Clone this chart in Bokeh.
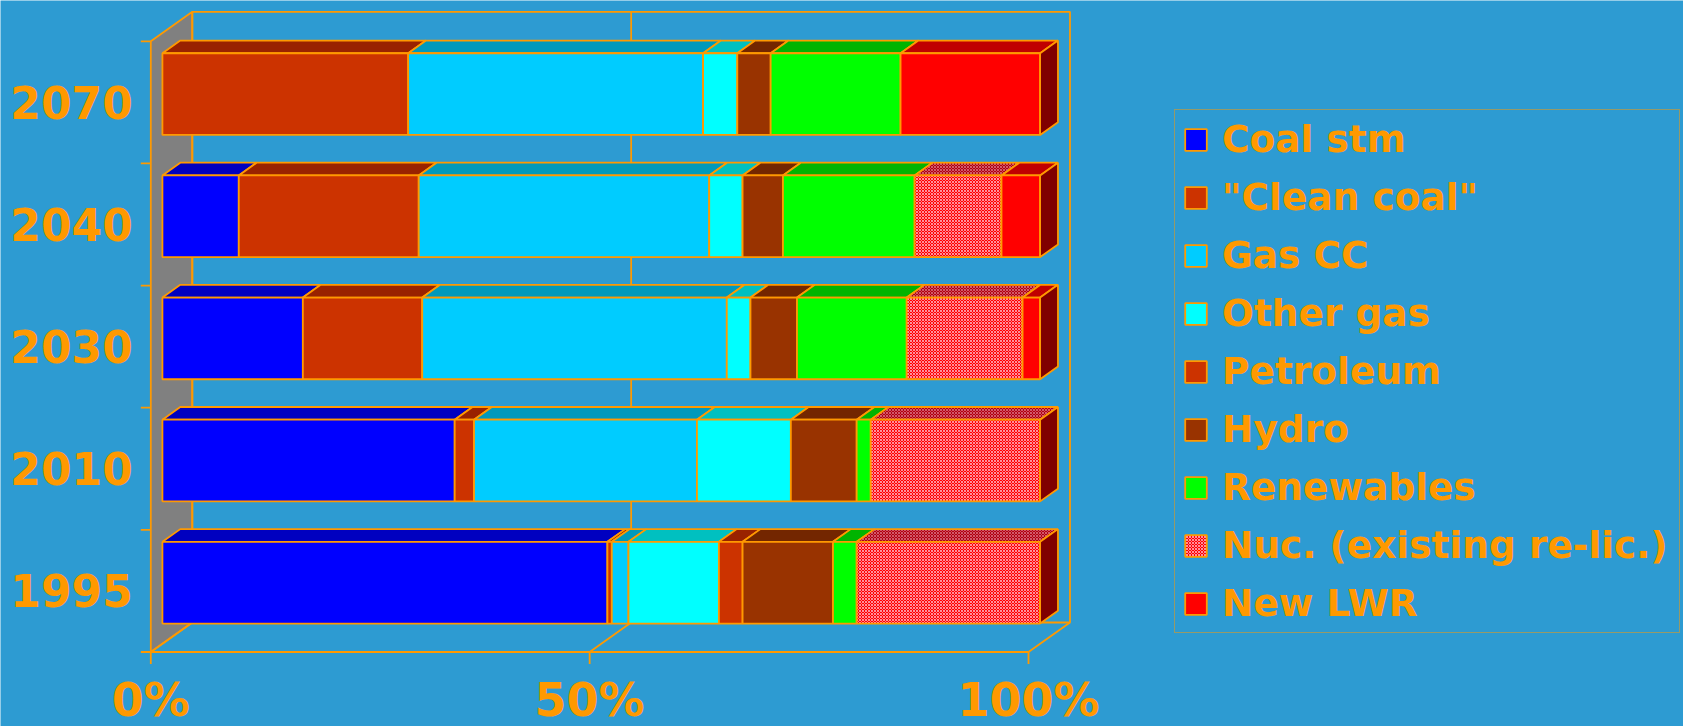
from bokeh.plotting import figure
from bokeh.models import Range1d, Legend, LegendItem
from bokeh.embed import file_html
from bokeh.resources import INLINE
from bokeh.core.properties import value

# ---------------- data (share of generation, %) ----------------
years = ["1995", "2010", "2030", "2040", "2070"]          # bottom -> top
series_names = ['Coal stm', '"Clean coal"', 'Gas CC', 'Other gas', 'Petroleum',
                'Hydro', 'Renewables', 'Nuc. (existing re-lic.)', 'New LWR']
coal_stm   = [50.7, 33.3, 16.0,  8.7,  0.0]
clean_coal = [ 0.5,  2.2, 13.6, 20.5, 28.0]
gas_cc     = [ 1.9, 25.4, 34.7, 33.1, 33.6]
other_gas  = [10.3, 10.7,  2.7,  3.8,  3.9]
petroleum  = [ 2.7,  0.0,  0.0,  0.0,  0.0]
hydro      = [10.3,  7.5,  5.3,  4.6,  3.8]
renewables = [ 2.7,  1.6, 12.5, 15.0, 14.8]
nuclear    = [20.9, 19.3, 13.2,  9.9,  0.0]
new_lwr    = [ 0.0,  0.0,  2.0,  4.4, 15.9]
x_ticks = [0, 50, 100]
x_tick_labels = ["0%", "50%", "100%"]

series_values = [coal_stm, clean_coal, gas_cc, other_gas, petroleum,
                 hydro, renewables, nuclear, new_lwr]

# ---------------- style ----------------
BG = "#2D9BD2"
ORANGE = "#FF9900"
FRONT = ["#0000FF", "#CC3300", "#00CCFF", "#00FFFF", "#CC3300",
         "#993300", "#00FF00", "#FF0000", "#FF0000"]
TOP = ["#0000C0", "#992200", "#0099BB", "#00C0C0", "#992200",
       "#732600", "#00B400", "#B00010", "#C00000"]
HATCH = [None] * 7 + ["diagonal_cross", None]
SIDE = "#800000"
WALL = "#808080"
FONT = "DejaVu Sans"

W, H = 1683, 726
PX0, PXW = 150.3, 877.7      # px of 0 %, px per 100 %
PY0, PYB = 74.5, 122.14      # px (from bottom) of floor, px per category band
DXP, DYP = 41.5, 29.5        # depth of the box in px
F0, F1 = 0.28, 0.71          # bar depth (fractions of the box depth)
BH = 0.669                   # bar height (band units)

sx = PXW / 100.0
DX = DXP / sx
DY = DYP / PYB
n = len(years)

p = figure(width=W, height=H,
           x_range=Range1d(-PX0 / sx, (W - PX0) / sx),
           y_range=Range1d(-PY0 / PYB, (H - PY0) / PYB),
           x_axis_type=None, y_axis_type=None, toolbar_location=None,
           output_backend="svg", min_border=0,
           background_fill_color=BG, border_fill_color=BG,
           outline_line_color=None)

LW = 1.8
# left wall (grey)
p.patch(x=[0, 0, DX, DX], y=[0, n, n + DY, DY], fill_color=WALL,
        line_color=ORANGE, line_width=LW)
# back wall
p.quad(left=[DX], right=[100 + DX], bottom=[DY], top=[n + DY],
       fill_color=None, line_color=ORANGE, line_width=LW)
# back wall grid line
p.segment(x0=[50 + DX], y0=[DY], x1=[50 + DX], y1=[n + DY],
          line_color=ORANGE, line_width=LW)
# floor
p.segment(x0=x_ticks, y0=[0] * 3, x1=[t + DX for t in x_ticks], y1=[DY] * 3,
          line_color=ORANGE, line_width=LW)
p.segment(x0=[0], y0=[0], x1=[100], y1=[0], line_color=ORANGE, line_width=LW)
# ticks
p.segment(x0=[0] * (n + 1), y0=list(range(n + 1)), x1=[-10 / sx] * (n + 1),
          y1=list(range(n + 1)), line_color=ORANGE, line_width=LW)
p.segment(x0=x_ticks, y0=[0] * 3, x1=x_ticks, y1=[-12 / PYB] * 3,
          line_color=ORANGE, line_width=LW)

# ---------------- bars ----------------
cum = [0.0] * n
legend_items = []
for j, vals in enumerate(series_values):
    L, R, B, T = [], [], [], []
    txs, tys = [], []
    for i, v in enumerate(vals):
        x0 = cum[i]
        x1 = cum[i] + v
        cum[i] = x1
        if v <= 0:
            continue
        yb = i + 0.5 - BH / 2
        yt = i + 0.5 + BH / 2
        L.append(x0 + F0 * DX); R.append(x1 + F0 * DX)
        B.append(yb + F0 * DY); T.append(yt + F0 * DY)
        txs.append([x0 + F0 * DX, x1 + F0 * DX, x1 + F1 * DX, x0 + F1 * DX])
        tys.append([yt + F0 * DY, yt + F0 * DY, yt + F1 * DY, yt + F1 * DY])
    hatch_kw = {}
    top_hatch_kw = {}
    if HATCH[j]:
        hatch_kw = dict(hatch_pattern=HATCH[j], hatch_color="#FFC0D0",
                        hatch_scale=3, hatch_weight=1, hatch_alpha=0.75)
        top_hatch_kw = dict(hatch_pattern=HATCH[j], hatch_color="#E08090",
                            hatch_scale=3, hatch_weight=1, hatch_alpha=0.7)
    p.patches(xs=txs, ys=tys, fill_color=TOP[j], line_color=ORANGE,
              line_width=LW, **top_hatch_kw)
    r = p.quad(left=L, right=R, bottom=B, top=T, fill_color=FRONT[j],
               line_color=ORANGE, line_width=LW, **hatch_kw)
    legend_items.append(LegendItem(label=series_names[j], renderers=[r]))

# right side faces
sxs, sys_ = [], []
for i in range(n):
    yb = i + 0.5 - BH / 2
    yt = i + 0.5 + BH / 2
    xe = cum[i]
    sxs.append([xe + F0 * DX, xe + F0 * DX, xe + F1 * DX, xe + F1 * DX])
    sys_.append([yb + F0 * DY, yt + F0 * DY, yt + F1 * DY, yb + F1 * DY])
p.patches(xs=sxs, ys=sys_, fill_color=SIDE, line_color=ORANGE, line_width=LW)

# ---------------- labels ----------------
p.text(x=[0] * n, y=[i + 0.5 for i in range(n)], text=years,
       text_align="right", text_baseline="middle", x_offset=-18,
       text_font=value(FONT), text_font_style="bold", text_font_size="44px",
       text_color=ORANGE)
p.text(x=x_ticks, y=[0] * 3, text=x_tick_labels, text_align="center",
       text_baseline="alphabetic", y_offset=48,
       text_font=value(FONT), text_font_style="bold", text_font_size="46px",
       text_color=ORANGE)

legend = Legend(items=legend_items, location=(1174, 93), orientation="vertical",
                label_text_font=FONT, label_text_font_style="bold",
                label_text_font_size="37.5px", label_text_color=ORANGE,
                glyph_width=27, glyph_height=27, label_standoff=13,
                spacing=14, padding=7, margin=0, label_width=450,
                border_line_color=ORANGE, border_line_width=1.5,
                background_fill_alpha=0)
p.add_layout(legend)

open("out.html", "w").write(file_html(p, INLINE))
